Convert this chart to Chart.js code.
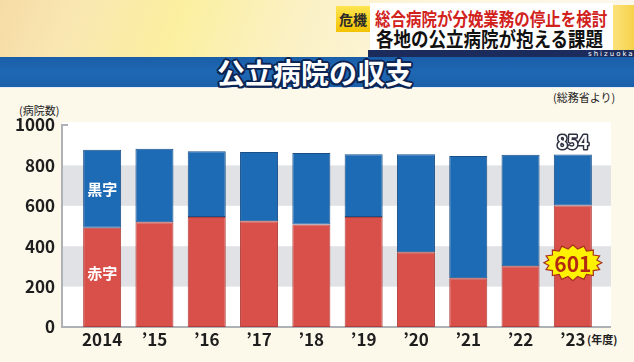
<!DOCTYPE html>
<html lang="ja">
<head>
<meta charset="utf-8">
<script src="https://cdn.jsdelivr.net/npm/chart.js@4.4.1/dist/chart.umd.min.js"></script>
<style>
  html, body { margin: 0; padding: 0; }
  body {
    width: 634px; height: 362px; overflow: hidden; position: relative;
    background: #fcf8ea;
    font-family: "Noto Sans CJK JP", "Noto Sans", sans-serif;
  }
  #top {
    position: absolute; left: 0; top: 0; width: 634px; height: 57px;
    background: linear-gradient(110deg, #f6dba6 0%, #f9e7b2 12%, #fbef9f 28%, #fbf1c6 48%, #fcf6e0 70%, #fbf7ec 100%);
  }
  #tag {
    position: absolute; left: 336px; top: 6px; width: 34px; height: 26px;
    background: linear-gradient(180deg, #ffe54f, #f3c200);
    font-weight: 700; font-size: 14px; color: #2a2a2a; text-align: center; line-height: 26px;
  }
  #capbox { position: absolute; left: 370px; top: 3px; width: 243px; height: 47px; background: #ffffff; }
  #capside { position: absolute; left: 613px; top: 5px; width: 21px; height: 45px; background: linear-gradient(90deg, #fbe27a, #f7d24a); }
  .cap { position: absolute; white-space: nowrap; font-weight: 700; transform-origin: left top; }
  #cap1 { left: 375px; top: 6px; font-size: 18px; line-height: 24px; color: #d1221c; transform: scaleX(0.86); }
  #cap2 { left: 376px; top: 27px; font-size: 20px; line-height: 24px; color: #111111; transform: scaleX(0.875); }
  #navy { position: absolute; left: 368px; top: 50px; width: 266px; height: 7px; background: #1b2b5c; }
  #shizuoka { position: absolute; left: 588px; top: 51px; font-size: 7px; line-height: 7px; letter-spacing: 2px; color: #ffffff; font-family: "DejaVu Sans", sans-serif; }
  #banner {
    position: absolute; left: 0; top: 57px; width: 634px; height: 30px;
    background: linear-gradient(180deg, #1a5ea8 0%, #1f68b4 50%, #1b60aa 100%);
    border-bottom: 1px solid #e8eef6;
  }
  #title {
    position: absolute; left: 0; top: 56px; width: 630px; text-align: center;
    font-size: 28px; line-height: 32px; font-weight: 700; color: #ffffff;
    text-shadow: 2px 0 #0c2452, -2px 0 #0c2452, 0 2px #0c2452, 0 -2px #0c2452,
                 1.5px 1.5px #0c2452, -1.5px 1.5px #0c2452, 1.5px -1.5px #0c2452, -1.5px -1.5px #0c2452;
  }
  .note { position: absolute; white-space: nowrap; color: #222222; }
  #source { left: 553px; top: 89px; font-size: 11px; line-height: 16px; }
  #unit { left: 19px; top: 102px; font-size: 11px; line-height: 16px; }
  #year { left: 587px; top: 331px; font-size: 11px; line-height: 16px; font-weight: 700; }
  #wrap { position: absolute; left: 0; top: 90px; width: 634px; height: 272px; }
</style>
</head>
<body>
<div id="top"></div>
<div id="tag">危機</div>
<div id="capbox"></div>
<div id="capside"></div>
<div class="cap" id="cap1">総合病院が分娩業務の停止を検討</div>
<div class="cap" id="cap2">各地の公立病院が抱える課題</div>
<div id="navy"></div>
<div id="shizuoka">shizuoka</div>
<div id="banner"></div>
<div id="title">公立病院の収支</div>
<div class="note" id="source">(総務省より)</div>
<div class="note" id="unit">(病院数)</div>
<div class="note" id="year">(年度)</div>
<div id="wrap"><canvas id="chart" width="634" height="272"></canvas></div>

<script>
// 年度ラベル
const years = ['2014', '’15', '’16', '’17', '’18', '’19', '’20', '’21', '’22', '’23'];
// 赤字の病院数
const redCounts = [491, 519, 544, 523, 508, 544, 370, 241, 301, 601];
// 黒字の病院数
const blackCounts = [386, 364, 326, 343, 353, 311, 485, 605, 552, 253];
// 目盛り
const yTicks = [0, 200, 400, 600, 800, 1000];
// 背景の灰色の帯
const bandRanges = [[200, 400], [600, 800]];

const fontFamily = '"Noto Sans CJK JP", "Noto Sans", sans-serif';

// 白い背景・灰色の帯・軸線
const backdropPlugin = {
    id: 'backdrop',
    beforeDatasetsDraw(chart) {
        const { ctx, chartArea: a, scales: { y } } = chart;
        const l = a.left - 14, r = a.right + 12;
        ctx.save();
        ctx.fillStyle = '#ffffff';
        ctx.fillRect(l, a.top - 3, r - l, a.bottom - a.top + 3);
        ctx.fillStyle = '#e0e2e5';
        bandRanges.forEach(([lo, hi]) => {
            const t = y.getPixelForValue(hi), b = y.getPixelForValue(lo);
            ctx.fillRect(l, t, r - l, b - t);
        });
        ctx.strokeStyle = '#aeb2b7';
        ctx.lineWidth = 2;
        ctx.beginPath();
        ctx.moveTo(l + 6, a.top);
        ctx.lineTo(l, a.top);
        ctx.lineTo(l, a.bottom);
        ctx.lineTo(r, a.bottom);
        ctx.stroke();
        ctx.restore();
    }
};

// 棒の中のラベル・合計・強調表示
const labelPlugin = {
    id: 'labels',
    afterDatasetsDraw(chart) {
        const { ctx, scales: { y } } = chart;
        const redBars = chart.getDatasetMeta(0).data;
        const blueBars = chart.getDatasetMeta(1).data;
        ctx.save();
        ctx.textAlign = 'center';
        ctx.textBaseline = 'middle';

        // 黒字 / 赤字
        ctx.font = `700 15px ${fontFamily}`;
        ctx.fillStyle = '#ffffff';
        const b0 = blueBars[0], r0 = redBars[0];
        ctx.fillText(chart.data.datasets[1].label, b0.x, (b0.y + b0.base) / 2);
        ctx.fillText(chart.data.datasets[0].label, r0.x, (r0.y + r0.base) / 2 - 4);

        // 合計（最終年度）
        const last = years.length - 1;
        const bl = blueBars[last];
        const total = redCounts[last] + blackCounts[last];
        ctx.font = `700 18px ${fontFamily}`;
        ctx.lineJoin = 'round';
        ctx.lineWidth = 3;
        ctx.strokeStyle = '#2b3140';
        ctx.strokeText(String(total), bl.x, bl.y - 12);
        ctx.fillStyle = '#ffffff';
        ctx.fillText(String(total), bl.x, bl.y - 12);

        // 赤字の強調（星形）
        const rl = redBars[last];
        const cx = rl.x, cy = y.getPixelForValue(318);
        const n = 16;
        ctx.beginPath();
        for (let i = 0; i < n * 2; i++) {
            const ang = i * Math.PI / n;
            const rx = i % 2 === 0 ? 29 : 24.5;
            const ry = i % 2 === 0 ? 18 : 14;
            const px = cx + rx * Math.cos(ang), py = cy + ry * Math.sin(ang);
            if (i === 0) ctx.moveTo(px, py); else ctx.lineTo(px, py);
        }
        ctx.closePath();
        ctx.fillStyle = '#fff200';
        ctx.fill();
        ctx.lineWidth = 1.2;
        ctx.lineJoin = 'miter';
        ctx.strokeStyle = '#a8321c';
        ctx.stroke();
        ctx.font = `700 21px ${fontFamily}`;
        ctx.fillStyle = '#b32a12';
        ctx.fillText(String(redCounts[last]), cx, cy + 1);
        ctx.restore();
    }
};

document.addEventListener('DOMContentLoaded', () => {
    const ctx = document.getElementById('chart').getContext('2d');
    new Chart(ctx, {
        type: 'bar',
        data: {
            labels: years,
            datasets: [
                { label: '赤字', data: redCounts, backgroundColor: '#d9504b', borderColor: '#b03f3b', borderWidth: 1, borderSkipped: false },
                { label: '黒字', data: blackCounts, backgroundColor: '#1e6bb5', borderColor: '#1a4f88', borderWidth: 1, borderSkipped: false }
            ]
        },
        options: {
            responsive: false,
            animation: false,
            layout: { padding: { left: 0, right: 35, top: 35, bottom: 5 } },
            datasets: { bar: { barPercentage: 0.727, categoryPercentage: 1 } },
            plugins: { legend: { display: false }, tooltip: { enabled: false } },
            scales: {
                x: {
                    stacked: true,
                    grid: { display: false, drawTicks: false },
                    border: { display: false },
                    ticks: { color: '#1e1e1e', font: { family: fontFamily, size: 17, weight: '700' }, padding: 2, maxRotation: 0 },
                    afterFit: scale => { scale.height = 30; }
                },
                y: {
                    stacked: true,
                    min: yTicks[0],
                    max: yTicks[yTicks.length - 1],
                    grid: { display: false, drawTicks: false },
                    border: { display: false },
                    afterBuildTicks: scale => { scale.ticks = yTicks.map(v => ({ value: v })); },
                    ticks: { color: '#1e1e1e', font: { family: fontFamily, size: 17, weight: '700' }, padding: 21, callback: v => String(v) },
                    afterFit: scale => { scale.width = 76; }
                }
            }
        },
        plugins: [backdropPlugin, labelPlugin]
    });
});
</script>
</body>
</html>
